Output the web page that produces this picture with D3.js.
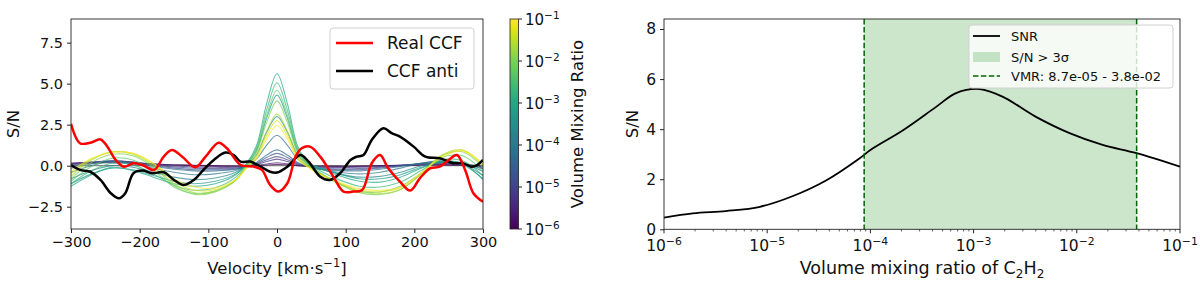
<!DOCTYPE html>
<meta charset="utf-8">
<head>
<script src="https://d3js.org/d3.v7.min.js"></script>
<style>
  body { margin: 0; background: #fff; }
  text { font-family: "DejaVu Sans", sans-serif; fill: #111; }
</style>
</head>
<body>
<script>
"use strict";
// ---- data ----
// left panel: CCF of the real data and of the anti (injection) test
var realV   = [-300,-287,-272,-257,-247,-235,-223,-209,-196,-179,-165,-153,-138,-119,-104,-85,-73,-53,-34,-22,-10,2,15,27,36,48,63,82,97,111,124,138,150,162,179,194,208,223,237,250,262,274,286,300];
var realSN  = [2.55,1.37,1.4,1.6,1.16,0.35,-0.06,0.15,0.04,-0.26,0.55,0.96,0.55,-0.1,0.55,1.4,1.06,0.04,-0.06,-0.26,-1.18,-1.58,-1.07,0.55,1.06,1.16,0.55,-0.67,-1.58,-1.58,-1.48,0.15,0.65,-0.16,-0.97,-1.52,-0.77,-0.16,-0.06,0.35,0.65,-0.26,-1.68,-2.2];
var antiV   = [-300,-287,-272,-257,-242,-230,-221,-209,-196,-182,-165,-150,-136,-121,-107,-92,-75,-63,-53,-39,-24,-10,0,15,34,46,63,77,92,107,116,126,138,155,167,179,199,216,237,257,271,283,290,300];
var antiSN  = [0.04,-0.26,-0.37,-0.87,-1.68,-1.99,-1.68,-0.46,-0.3,-0.46,-0.4,-0.87,-1.18,-0.87,-0.26,0.35,0.8,0.65,0.25,0.25,-0.06,-0.37,-0.42,-0.06,0.65,0.25,-0.67,-0.87,-0.46,0.35,0.55,0.65,1.57,2.28,1.98,1.77,1.16,0.55,0.45,0.15,0.15,-0.06,0.0,0.35];

// model CCFs, one per volume mixing ratio
var modelV = [-300,-270,-240,-210,-180,-150,-120,-90,-60,-45,-30,-15,0,15,30,45,60,90,120,150,180,210,240,270,300];
var modelVMR = [1e-6,2e-6,5e-6,1e-5,2e-5,5e-5,1e-4,2e-4,5e-4,1e-3,2e-3,5e-3,1e-2,2e-2,5e-2,1e-1];
var modelSN = [
  [0.15,0.17,0.18,0.15,0.1,0.06,0.03,0.0,-0.02,-0.02,0.0,0.04,0.08,0.05,0.0,-0.02,-0.02,-0.03,-0.03,0.0,0.02,0.04,0.05,0.03,0.0],
  [0.15,0.2,0.22,0.18,0.1,0.04,0.0,-0.04,-0.05,-0.04,0.02,0.1,0.18,0.11,0.02,-0.03,-0.05,-0.06,-0.05,-0.02,0.02,0.06,0.08,0.05,-0.02],
  [0.1,0.22,0.28,0.22,0.08,-0.02,-0.08,-0.1,-0.1,-0.05,0.06,0.25,0.4,0.25,0.06,-0.05,-0.1,-0.12,-0.1,-0.05,0.02,0.1,0.14,0.08,-0.05],
  [0.05,0.2,0.3,0.22,0.05,-0.08,-0.15,-0.18,-0.15,-0.05,0.1,0.36,0.55,0.36,0.1,-0.05,-0.15,-0.2,-0.18,-0.1,0.0,0.12,0.18,0.1,-0.1],
  [0.0,0.15,0.28,0.2,0.0,-0.15,-0.25,-0.25,-0.2,-0.05,0.15,0.5,0.75,0.5,0.15,-0.05,-0.2,-0.25,-0.25,-0.15,0.0,0.15,0.2,0.1,-0.15],
  [-0.15,0.1,0.25,0.15,-0.05,-0.22,-0.32,-0.32,-0.22,-0.05,0.2,0.65,0.96,0.65,0.2,-0.03,-0.2,-0.3,-0.32,-0.22,-0.05,0.15,0.25,0.1,-0.2],
  [-0.4,0.0,0.25,0.1,-0.15,-0.4,-0.55,-0.5,-0.3,-0.05,0.4,1.25,1.85,1.25,0.4,0.0,-0.2,-0.4,-0.5,-0.4,-0.15,0.15,0.3,0.15,-0.35],
  [-0.8,-0.3,0.0,-0.1,-0.4,-0.7,-0.85,-0.75,-0.4,0.0,0.65,2.05,3.0,2.05,0.65,0.1,-0.15,-0.5,-0.7,-0.65,-0.4,0.0,0.25,0.1,-0.6],
  [-1.1,-0.5,-0.15,-0.25,-0.6,-0.95,-1.1,-0.95,-0.5,0.05,0.9,2.9,4.3,2.9,0.9,0.15,-0.1,-0.5,-0.8,-0.8,-0.55,-0.1,0.2,0.05,-0.8],
  [-1.25,-0.55,-0.1,-0.3,-0.7,-1.1,-1.25,-1.1,-0.55,0.1,1.2,3.8,5.6,3.8,1.2,0.2,-0.1,-0.6,-0.95,-1.0,-0.7,-0.15,0.25,0.15,-0.85],
  [-1.1,-0.3,0.15,0.05,-0.5,-1.2,-1.5,-1.35,-0.7,0.05,1.05,3.4,5.05,3.4,1.05,0.15,-0.25,-0.85,-1.25,-1.3,-1.0,-0.3,0.35,0.3,-0.6],
  [-0.95,-0.05,0.45,0.35,-0.3,-1.3,-1.7,-1.55,-0.85,0.0,0.95,3.1,4.6,3.1,0.95,0.1,-0.35,-1.05,-1.55,-1.6,-1.25,-0.45,0.5,0.6,-0.35],
  [-0.8,0.2,0.7,0.6,-0.1,-1.2,-1.75,-1.6,-0.9,-0.05,0.8,2.65,3.95,2.65,0.8,0.05,-0.4,-1.1,-1.65,-1.75,-1.45,-0.5,0.6,0.85,-0.1],
  [-0.65,0.35,0.85,0.7,0.0,-1.1,-1.65,-1.55,-0.9,-0.1,0.6,2.1,3.15,2.1,0.6,0.0,-0.45,-1.1,-1.6,-1.7,-1.45,-0.5,0.65,0.95,0.0],
  [-0.5,0.4,0.85,0.75,0.1,-0.95,-1.5,-1.45,-0.85,-0.15,0.5,1.85,2.75,1.85,0.5,-0.05,-0.45,-1.05,-1.5,-1.6,-1.35,-0.45,0.6,0.95,0.05],
  [-0.35,0.45,0.8,0.75,0.15,-0.8,-1.3,-1.35,-0.85,-0.2,0.4,1.65,2.45,1.65,0.4,-0.1,-0.5,-1.0,-1.4,-1.5,-1.3,-0.45,0.5,0.9,0.1]
];
var leftYTicks = [-2.5, 0, 2.5, 5, 7.5];
var leftXTicks = [-300, -200, -100, 0, 100, 200, 300];
var cbarTicks = [-6, -5, -4, -3, -2, -1];

// right panel: S/N against VMR of C2H2
var snrLogVMR = [-6,-5.72,-5.4,-5.07,-4.75,-4.43,-4.1,-4.0,-3.68,-3.36,-3.17,-2.94,-2.72,-2.4,-2.07,-1.75,-1.42,-1];
var snrValue  = [0.47,0.64,0.73,0.9,1.33,1.95,2.85,3.17,3.97,4.9,5.44,5.6,5.3,4.5,3.84,3.37,3.04,2.5];
var vmrLow = 8.7e-5, vmrHigh = 3.8e-2;
var rightYTicks = [0, 2, 4, 6, 8];
var rightXTicks = [-6, -5, -4, -3, -2, -1];

var width = 1200, height = 282;
var svg = d3.select("body").append("svg").attr("width", width).attr("height", height);

var minus = function(s) { return String(s).replace("-", "\u2212"); };
function pow10(g, x, y, e, size, anchor) {
  var t = g.append("text").attr("x", x).attr("y", y).style("font-size", size + "px").attr("text-anchor", anchor || "middle");
  t.append("tspan").text("10");
  t.append("tspan").attr("dy", -size * 0.42).style("font-size", (size * 0.7) + "px").text(minus(e));
  return t;
}

// ================= left panel =================
var x1 = d3.scaleLinear().domain([-300, 300]).range([71, 483]);
var y1 = d3.scaleLinear().domain([-3.86, 8.94]).range([229, 19]);
var vmrColor = d3.scaleSequentialLog(d3.interpolateViridis).domain([1e-6, 1e-1]);

var left = svg.append("g");
left.append("clipPath").attr("id", "clipL").append("rect")
  .attr("x", 71).attr("y", 19).attr("width", 412).attr("height", 210);
var plotL = left.append("g").attr("clip-path", "url(#clipL)");

var curve = d3.curveCatmullRom.alpha(0.5);
var modelLine = d3.line().curve(curve).x(function(d, i) { return x1(modelV[i]); }).y(function(d) { return y1(d); });

plotL.append("line").attr("x1", 71).attr("x2", 483).attr("y1", y1(0)).attr("y2", y1(0))
  .attr("stroke", "#888").attr("stroke-width", 1.2);

plotL.selectAll("path.model").data(modelSN).enter().append("path")
  .attr("class", "model")
  .attr("d", modelLine)
  .attr("fill", "none")
  .attr("stroke", function(d, i) { return vmrColor(modelVMR[i]); })
  .attr("stroke-opacity", 0.7)
  .attr("stroke-width", 1.1);

var realLine = d3.line().curve(curve).x(function(d, i) { return x1(realV[i]); }).y(function(d) { return y1(d); });
var antiLine = d3.line().curve(curve).x(function(d, i) { return x1(antiV[i]); }).y(function(d) { return y1(d); });
plotL.append("path").attr("d", antiLine(antiSN)).attr("fill", "none").attr("stroke", "#000").attr("stroke-width", 2.5);
plotL.append("path").attr("d", realLine(realSN)).attr("fill", "none").attr("stroke", "#ff0000").attr("stroke-width", 2.5);

left.append("rect").attr("x", 71).attr("y", 19).attr("width", 412).attr("height", 210)
  .attr("fill", "none").attr("stroke", "#222").attr("stroke-width", 0.9);

var axL = left.append("g").attr("transform", "translate(0,229)")
  .call(d3.axisBottom(x1).tickValues(leftXTicks).tickSize(4).tickPadding(4).tickFormat(function(d) { return minus(d); }));
var ayL = left.append("g").attr("transform", "translate(71,0)")
  .call(d3.axisLeft(y1).tickValues(leftYTicks).tickSize(4).tickPadding(4).tickFormat(function(d) { return minus(d3.format(".1f")(d)); }));
[axL, ayL].forEach(function(a) {
  a.select(".domain").remove();
  a.selectAll("line").attr("stroke", "#222");
  a.selectAll("text").style("font-size", "14.5px").style("font-family", "DejaVu Sans").attr("fill", "#111");
});

left.append("text").attr("transform", "translate(19,124) rotate(-90)").attr("text-anchor", "middle")
  .style("font-size", "16.5px").text("S/N");
var vl = left.append("text").attr("x", 277).attr("y", 274).attr("text-anchor", "middle").style("font-size", "16.5px");
vl.append("tspan").text("Velocity [km\u00b7s");
vl.append("tspan").attr("dy", -7).style("font-size", "11.5px").text("\u22121");
vl.append("tspan").attr("dy", 7).text("]");

// legend
var lgL = left.append("g");
lgL.append("rect").attr("x", 330).attr("y", 28).attr("width", 144).attr("height", 61).attr("rx", 3)
  .attr("fill", "#fff").attr("fill-opacity", 0.8).attr("stroke", "#d0d0d0");
[["Real CCF", "#ff0000", 43], ["CCF anti", "#000", 71]].forEach(function(e) {
  lgL.append("line").attr("x1", 336).attr("x2", 373).attr("y1", e[2]).attr("y2", e[2]).attr("stroke", e[1]).attr("stroke-width", 2.5);
  lgL.append("text").attr("x", 387).attr("y", e[2] + 6).style("font-size", "17px").text(e[0]);
});

// colorbar
var cb = svg.append("g");
var grad = svg.append("defs").append("linearGradient").attr("id", "vir")
  .attr("x1", 0).attr("y1", 1).attr("x2", 0).attr("y2", 0);
d3.range(0, 1.001, 0.05).forEach(function(t) {
  grad.append("stop").attr("offset", t).attr("stop-color", d3.interpolateViridis(t));
});
var cbY = d3.scaleLinear().domain([-6, -1]).range([229, 19]);
cb.append("rect").attr("x", 510).attr("y", 19).attr("width", 8.5).attr("height", 210)
  .attr("fill", "url(#vir)").attr("stroke", "#222").attr("stroke-width", 0.8);
cbarTicks.forEach(function(e) {
  cb.append("line").attr("x1", 518.5).attr("x2", 522).attr("y1", cbY(e)).attr("y2", cbY(e)).attr("stroke", "#222");
  pow10(cb, 525, cbY(e) + 6, e, 15, "start");
});
cb.append("text").attr("transform", "translate(583,124) rotate(-90)").attr("text-anchor", "middle")
  .style("font-size", "16.5px").text("Volume Mixing Ratio");

// ================= right panel =================
var x2 = d3.scaleLog().domain([1e-6, 1e-1]).range([664, 1180]);
var y2 = d3.scaleLinear().domain([0, 8.4]).range([229.3, 19]);
var right = svg.append("g");

right.append("rect").attr("x", x2(vmrLow)).attr("y", 19).attr("width", x2(vmrHigh) - x2(vmrLow)).attr("height", 210.3)
  .attr("fill", "#008000").attr("fill-opacity", 0.2);

var snrLine = d3.line().curve(d3.curveCatmullRom.alpha(0.5))
  .x(function(d, i) { return x2(Math.pow(10, snrLogVMR[i])); }).y(function(d) { return y2(d); });
right.append("path").attr("d", snrLine(snrValue)).attr("fill", "none").attr("stroke", "#000").attr("stroke-width", 1.8);

[vmrLow, vmrHigh].forEach(function(v) {
  right.append("line").attr("x1", x2(v)).attr("x2", x2(v)).attr("y1", 19).attr("y2", 229.3)
    .attr("stroke", "#006400").attr("stroke-width", 1.5).attr("stroke-dasharray", "5.5,2.4");
});

right.append("rect").attr("x", 664).attr("y", 19).attr("width", 516).attr("height", 210.3)
  .attr("fill", "none").attr("stroke", "#222").attr("stroke-width", 0.9);

var minorTicks = [];
rightXTicks.slice(0, -1).forEach(function(e) {
  for (var k = 2; k <= 9; k++) minorTicks.push(k * Math.pow(10, e));
});
var ax2 = right.append("g").attr("transform", "translate(0,229.3)");
ax2.selectAll("line.minor").data(minorTicks).enter().append("line").attr("class", "minor")
  .attr("x1", function(d) { return x2(d); }).attr("x2", function(d) { return x2(d); })
  .attr("y1", 0).attr("y2", 2.2).attr("stroke", "#222").attr("stroke-width", 0.7);
rightXTicks.forEach(function(e) {
  var xp = x2(Math.pow(10, e));
  ax2.append("line").attr("x1", xp).attr("x2", xp).attr("y1", 0).attr("y2", 4).attr("stroke", "#222");
  pow10(ax2, xp, 22, e, 15.5, "middle");
});
var ay2 = right.append("g").attr("transform", "translate(664,0)")
  .call(d3.axisLeft(y2).tickValues(rightYTicks).tickSize(4).tickPadding(4));
ay2.select(".domain").remove();
ay2.selectAll("line").attr("stroke", "#222");
ay2.selectAll("text").style("font-size", "15.5px").style("font-family", "DejaVu Sans").attr("fill", "#111");

right.append("text").attr("transform", "translate(638,124) rotate(-90)").attr("text-anchor", "middle")
  .style("font-size", "16.5px").text("S/N");
var xl2 = right.append("text").attr("x", 922).attr("y", 274).attr("text-anchor", "middle").style("font-size", "17.5px");
xl2.append("tspan").text("Volume mixing ratio of C");
xl2.append("tspan").attr("dy", 4).style("font-size", "12px").text("2");
xl2.append("tspan").attr("dy", -4).text("H");
xl2.append("tspan").attr("dy", 4).style("font-size", "12px").text("2");

// legend
var lgR = right.append("g");
lgR.append("rect").attr("x", 969).attr("y", 25).attr("width", 204).attr("height", 63).attr("rx", 3)
  .attr("fill", "#fff").attr("fill-opacity", 0.8).attr("stroke", "#d0d0d0");
lgR.append("line").attr("x1", 973).attr("x2", 1000).attr("y1", 36).attr("y2", 36).attr("stroke", "#000").attr("stroke-width", 1.8);
lgR.append("rect").attr("x", 973).attr("y", 52).attr("width", 27).attr("height", 10).attr("fill", "#008000").attr("fill-opacity", 0.2);
lgR.append("line").attr("x1", 973).attr("x2", 1000).attr("y1", 76).attr("y2", 76).attr("stroke", "#006400")
  .attr("stroke-width", 1.5).attr("stroke-dasharray", "5.5,2.4");
lgR.append("text").attr("x", 1011).attr("y", 41).style("font-size", "13px").text("SNR");
lgR.append("text").attr("x", 1011).attr("y", 62).style("font-size", "13px").text("S/N > 3\u03c3");
lgR.append("text").attr("x", 1011).attr("y", 81).style("font-size", "13px").text("VMR: 8.7e-05 - 3.8e-02");
</script>
</body>
